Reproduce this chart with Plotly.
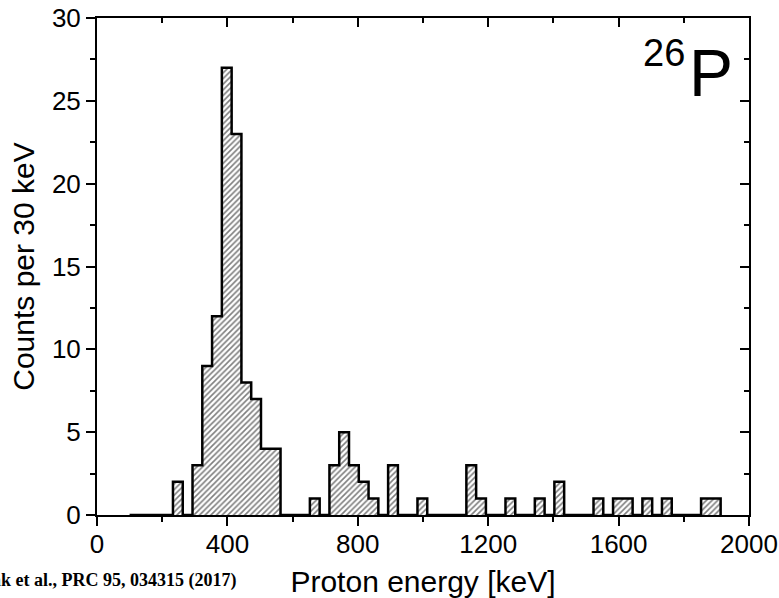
import plotly.graph_objects as go

# Histogram data (30 keV bins)
bin_width = 30
first_edge = 233
counts = [2, 0, 3, 9, 12, 27, 23, 8, 7, 4, 4,      # 233 - 563
          0, 0, 0, 1, 0, 3, 5, 3, 2, 1,            # 563 - 863
          0, 3, 0, 0, 1, 0, 0, 0, 0, 3, 1,         # 863 - 1193
          0, 0, 1, 0, 0, 1, 0, 2, 0, 0, 0,         # 1193 - 1523
          1, 0, 1, 1, 0, 1, 0, 1, 0, 0, 0, 1, 1]   # 1523 - 1913
hist_start = 100

x_ticks = [0, 400, 800, 1200, 1600, 2000]
y_ticks = [0, 5, 10, 15, 20, 25, 30]

centers = [first_edge + bin_width * (i + 0.5) for i in range(len(counts))]
edges = [first_edge + bin_width * i for i in range(len(counts) + 1)]

# outline of the histogram (step)
ox = [hist_start, first_edge] + edges
oy = [0, 0] + counts + [0]

FONT = "Liberation Sans, Arial, sans-serif"

fig = go.Figure()
fig.add_trace(go.Bar(
    x=centers, y=counts, width=bin_width,
    marker=dict(color="white", line=dict(width=0),
                pattern=dict(shape="/", fgcolor="black", bgcolor="white",
                             size=4, solidity=0.4, fillmode="overlay")),
    showlegend=False, hoverinfo="skip"))
fig.add_trace(go.Scatter(
    x=ox, y=oy, mode="lines", line=dict(color="black", width=2.5, shape="hv"),
    showlegend=False, hoverinfo="skip"))
# empty trace to host the mirrored top / right axes
fig.add_trace(go.Scatter(x=[None], y=[None], xaxis="x2", yaxis="y2",
                         mode="markers", showlegend=False, hoverinfo="skip"))

common_x = dict(range=[0, 2000], tickvals=x_ticks, showgrid=False, zeroline=False,
                showline=True, linecolor="black", linewidth=2, automargin=False,
                tickcolor="black", tickwidth=2, ticklen=9)
common_y = dict(range=[0, 30], tickvals=y_ticks, showgrid=False, zeroline=False,
                showline=True, linecolor="black", linewidth=2, automargin=False,
                tickcolor="black", tickwidth=2, ticklen=9)

fig.update_layout(
    width=779, height=598,
    margin=dict(l=97, r=30, t=18, b=83, autoexpand=False),
    paper_bgcolor="white", plot_bgcolor="white",
    bargap=0,
    font=dict(family=FONT, color="black"),
    xaxis=dict(**common_x, ticks="outside",
               tickfont=dict(size=26, family=FONT), ticklabelstandoff=-4,
               minor=dict(dtick=200, tick0=0, ticks="outside", ticklen=5,
                          tickwidth=2, tickcolor="black"),
               title=dict(text="Proton energy [keV]", font=dict(size=30, family=FONT),
                          standoff=14)),
    yaxis=dict(**common_y, ticks="outside",
               tickfont=dict(size=26, family=FONT),
               minor=dict(dtick=2.5, tick0=0, ticks="outside", ticklen=5,
                          tickwidth=2, tickcolor="black"),
               title=dict(text="Counts per 30 keV", font=dict(size=30, family=FONT),
                          standoff=8)),
    xaxis2=dict(**common_x, overlaying="x", side="top", anchor="y2", ticks="inside",
                showticklabels=False,
                minor=dict(dtick=200, tick0=0, ticks="inside", ticklen=5,
                           tickwidth=2, tickcolor="black")),
    yaxis2=dict(**common_y, overlaying="y", side="right", anchor="x2", ticks="inside",
                showticklabels=False,
                minor=dict(dtick=2.5, tick0=0, ticks="inside", ticklen=5,
                           tickwidth=2, tickcolor="black")),
    annotations=[
        dict(text="P", xref="paper", yref="paper", x=0.941, y=0.889,
             xanchor="center", yanchor="middle", showarrow=False,
             font=dict(size=66, family=FONT, color="black")),
        dict(text="26", xref="paper", yref="paper", x=0.8696, y=0.929,
             xanchor="center", yanchor="middle", showarrow=False,
             font=dict(size=38, family=FONT, color="black")),
        dict(text="<b>Janiak et al., PRC 95, 034315 (2017)</b>", xref="paper", yref="paper",
             x=(239 - 97) / 652, y=(515 - 580) / 497,
             xanchor="right", yanchor="middle", showarrow=False,
             font=dict(size=18, family="Liberation Serif, Times New Roman, serif",
                       color="black")),
    ],
)

fig.write_html("out.html")
